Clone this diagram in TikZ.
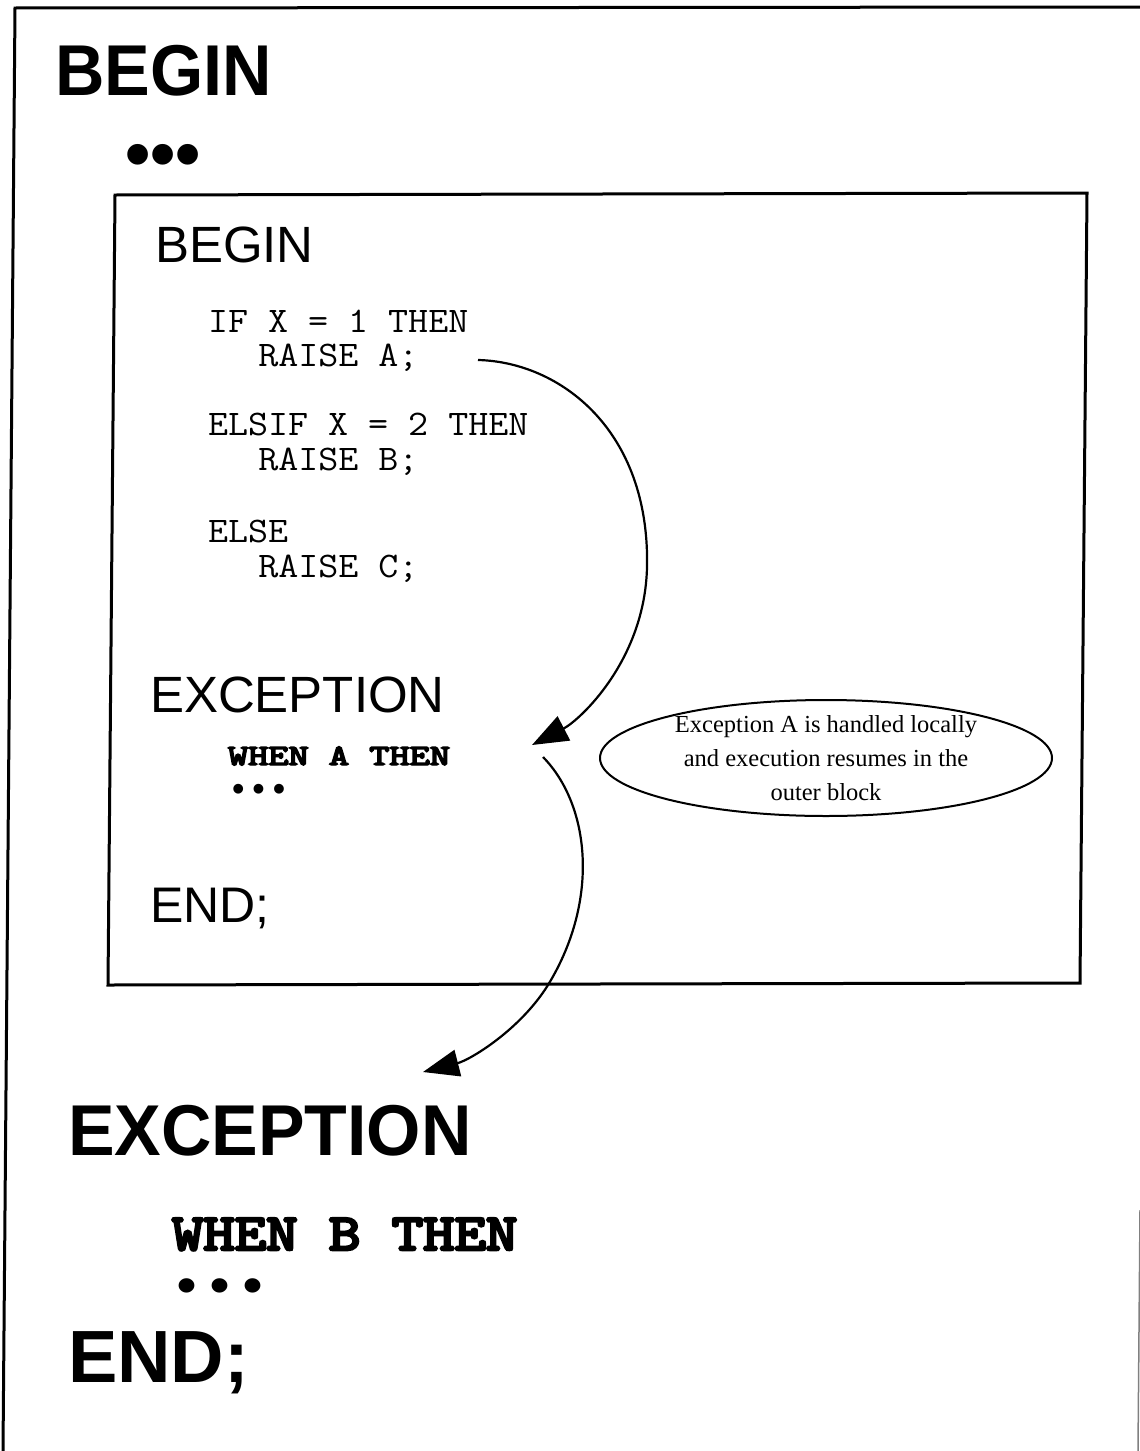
\documentclass[tikz,border=0pt]{standalone}
\usepackage{fontspec}
\usepackage{graphicx}
\setmainfont{Liberation Serif}
\newfontfamily\arialf{Liberation Sans}
\newfontfamily\courf{Liberation Mono}
\newfontfamily\slabf{lmmono10-regular.otf}[FakeBold=5]
\usetikzlibrary{arrows.meta,shapes.geometric}
\newcommand{\fsz}[1]{\fontsize{#1}{#1}\selectfont}
\begin{document}
\begin{tikzpicture}[x=1pt,y=-1pt,
  txt/.style={inner sep=0pt, outer sep=0pt, anchor=base west},
  headbig/.style={txt, font=\arialf\bfseries\fsz{72}},
  headmid/.style={txt, font=\arialf\fsz{51}},
  codeline/.style={txt, font=\ttfamily\fsz{36}},
  codebold/.style={txt, font=\slabf\fsz{31}},
  codebig/.style={txt, font=\slabf\fsz{52}},
  dotsfont/.style={txt, font=\courf\bfseries\fsz{#1}},
  frame/.style={line width=3pt, line join=miter},
  conn/.style={line width=2.2pt, -{Triangle[length=36pt,width=27pt]}},
  callout/.style={draw, ellipse, line width=2pt, minimum width=452pt, minimum height=116pt,
     inner xsep=-40pt, inner ysep=-25pt, align=center, font=\fontsize{24.5}{34}\selectfont}
]
\useasboundingbox (0,0) rectangle (1140,1451);
\fill[white] (0,0) rectangle (1140,1451);

% outer frame (scanned, slightly skewed)
\draw[frame] (3,1451) -- (15,8) -- (1140,7);
\draw[line width=1.5pt, gray] (1140,1210) -- (1138,1451);

% inner block
\draw[frame] (115,195) -- (1087,193) -- (1080,983) -- (108,985) -- cycle;

% outer block text
\node[headbig] (obegin) at (55,95) {\scalebox{0.95}[1]{BEGIN}};
\node[headbig] (odots) at (125,178) {•••};

% inner block text
\node[headmid] (ibegin) at (155,262) {BEGIN};
\node[codeline] (l1) at (208,332) {\scalebox{1.08}[1]{IF X = 1 THEN}};
\node[codeline] (l2) at (208,366) {\scalebox{1.08}[1]{\hspace*{3ex}RAISE A;}};
\node[codeline] (l3) at (208,435) {\scalebox{1.08}[1]{ELSIF X = 2 THEN}};
\node[codeline] (l4) at (208,470) {\scalebox{1.08}[1]{\hspace*{3ex}RAISE B;}};
\node[codeline] (l5) at (208,542) {\scalebox{1.08}[1]{ELSE}};
\node[codeline] (l6) at (208,577) {\scalebox{1.08}[1]{\hspace*{3ex}RAISE C;}};
\node[headmid] (iexc) at (150,712) {EXCEPTION};
\node[codebold] (iwhen) at (228,765) {\scalebox{1.24}[0.95]{WHEN A THEN}};
\node[dotsfont=34] (idots) at (228,800) {•••};
\node[txt, font=\arialf\fsz{50}] (iend) at (150,922) {END;};

% callout
\node[callout] (note) at (826,758) {Exception A is handled locally\\and execution resumes in the\\outer block};

% outer exception part
\node[headbig] (oexc) at (68,1155) {\scalebox{0.97}[1]{EXCEPTION}};
\node[codebig] (owhen) at (172,1250) {\scalebox{1.15}[1]{WHEN B THEN}};
\node[dotsfont=50] (obdots) at (170,1302) {\scalebox{1.1}[1]{•••}};
\node[headbig, font=\arialf\bfseries\fsz{74}] (oend) at (68,1382) {END;};

% connectors
\coordinate (a1s) at (478,360);
\coordinate (a1m) at (647,567);
\coordinate (a1e) at (532,745);
\coordinate (a2s) at (543,757);
\coordinate (a2m) at (548,985);
\coordinate (a2e) at (423,1072);
\draw[conn] (a1s) .. controls (560,362) and (650,430) .. (a1m)
               .. controls (645,660) and (580,720) .. (a1e);
\draw[conn] (a2s) .. controls (590,805) and (600,900) .. (a2m)
               .. controls (520,1030) and (470,1060) .. (a2e);
\end{tikzpicture}
\end{document}
